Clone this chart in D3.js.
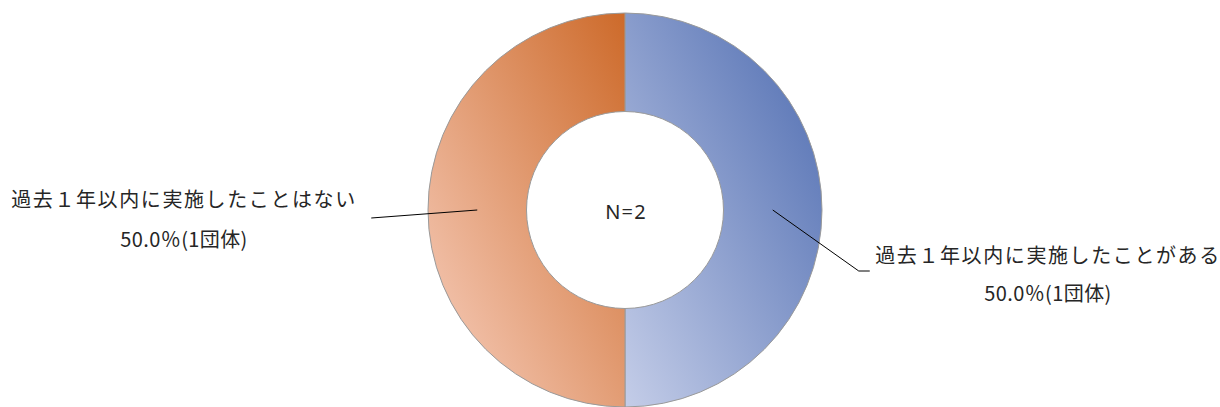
<!DOCTYPE html>
<html>
<head>
<meta charset="utf-8">
<script src="https://cdn.jsdelivr.net/npm/d3@7"></script>
<style>
  body { margin: 0; background: #fff; }
  #chart text { font-family: "Noto Sans CJK JP", "Noto Sans", sans-serif; fill: #262626; }
</style>
</head>
<body>
<div id="chart"></div>
<script>
const width = 1220;
const height = 407;

// data
const categories = ["過去１年以内に実施したことがある", "過去１年以内に実施したことはない"];
const counts = [1, 1];
const percents = ["50.0％", "50.0％"];
const total = "N=2";

const colorsDark = ["#4d6bb0", "#cd6a2a"];
const colorsLight = ["#c4cde8", "#f8d0c0"];

const cx = 625, cy = 210;
const outerR = 197, innerR = 98.5;

const svg = d3.select("#chart")
    .append("svg")
    .attr("width", width)
    .attr("height", height);

const defs = svg.append("defs");
categories.forEach((c, i) => {
    const grad = defs.append("linearGradient")
        .attr("id", "grad" + i)
        .attr("x1", 1).attr("y1", 0)
        .attr("x2", 0).attr("y2", 1);
    grad.append("stop").attr("offset", 0).attr("stop-color", colorsDark[i]);
    grad.append("stop").attr("offset", 1).attr("stop-color", colorsLight[i]);
});

const pie = d3.pie().sort(null).value(d => d);
const arc = d3.arc().innerRadius(innerR).outerRadius(outerR);
const arcs = pie(counts);

const g = svg.append("g").attr("transform", `translate(${cx},${cy})`);

g.selectAll("path.slice")
    .data(arcs)
    .enter()
    .append("path")
    .attr("class", "slice")
    .attr("d", arc)
    .attr("fill", (d, i) => `url(#grad${i})`)
    .attr("stroke", "#9a9a9a")
    .attr("stroke-width", 1);

// centre label
g.append("text")
    .attr("text-anchor", "middle")
    .attr("x", 1)
    .attr("y", 2)
    .attr("dy", "0.35em")
    .style("font-size", "20px")
    .style("letter-spacing", "1.2px")
    .style("font-family", "'Noto Sans', sans-serif")
    .text(total);

// leader lines, offsets from the slice centroid
const leaders = [
    [[0, 0], [86, 61], [97, 61]],
    [[0, 0], [-106, 8]]
];
const labelPos = [
    { x: 423, y1: 46, y2: 84 },
    { x: -441, y1: -10, y2: 30 }
];

arcs.forEach((d, i) => {
    const [mx, my] = arc.centroid(d);
    const pts = leaders[i].map(p => [mx + p[0], my + p[1]]);
    g.append("path")
        .attr("d", d3.line()(pts))
        .attr("fill", "none")
        .attr("stroke", "#000")
        .attr("stroke-width", 1);

    const lp = labelPos[i];
    g.append("text")
        .attr("x", lp.x)
        .attr("y", lp.y1)
        .attr("text-anchor", "middle")
        .attr("dy", "0.35em")
        .style("font-size", "20px")
        .style("letter-spacing", "1.6px")
        .text(categories[i]);
    g.append("text")
        .attr("x", lp.x)
        .attr("y", lp.y2)
        .attr("text-anchor", "middle")
        .attr("dy", "0.35em")
        .style("font-size", "20px")
        .style("letter-spacing", "0.4px")
        .text(`${percents[i]}(${counts[i]}団体)`);
});
</script>
</body>
</html>
